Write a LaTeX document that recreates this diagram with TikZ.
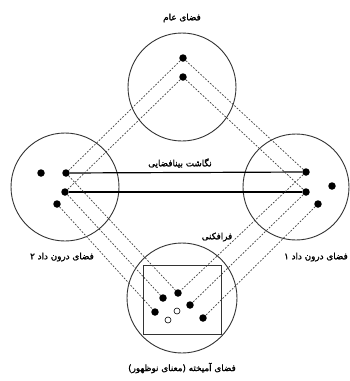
\documentclass[tikz,border=0pt]{standalone}
\usepackage{fontspec}
\newfontfamily\arabicfont[Script=Arabic, FakeBold=1.6]{DejaVu Sans}
\TeXXeTstate=1
\usetikzlibrary{positioning}

\begin{document}
\begin{tikzpicture}[x=1pt, y=-1pt,
  space/.style={circle, draw=black!80, line width=0.9pt, inner sep=0pt},
  dot/.style={circle, fill=black, inner sep=0pt, minimum size=7.5pt},
  hollow/.style={circle, draw=black, fill=white, line width=0.6pt, inner sep=0pt, minimum size=6pt},
  proj/.style={draw=black!75, line width=0.7pt, dash pattern=on 1.8pt off 1.5pt},
  map/.style={draw=black, line width=1.2pt},
  lbl/.style={font=\arabicfont\fontsize{8.8}{10}\selectfont, inner sep=1pt}
]
  \useasboundingbox (0,0) rectangle (349,381);

  \node[space, minimum size=108pt] (generic) at (182,87) {};
  \node[space, minimum size=108pt] (input2) at (65,187) {};
  \node[space, minimum size=106pt] (input1) at (296,187) {};
  \node[space, minimum size=110pt] (blend) at (182,298) {};
  \node[draw=black!80, line width=0.9pt, minimum width=78pt, minimum height=69pt, inner sep=0pt] (frame) at (182,299.5) {};

  \node[dot] (g1) at (183,58) {};
  \node[dot] (g2) at (183,77) {};

  \node[dot] (b0) at (41,173) {};
  \node[dot] (b1) at (66,173) {};
  \node[dot] (b2) at (65,192) {};
  \node[dot] (b3) at (57,204) {};

  \node[dot] (a1) at (306,172) {};
  \node[dot] (a2) at (306,192) {};
  \node[dot] (a3) at (318,204) {};
  \node[dot] (a0) at (332,186) {};

  \node[dot] (m1) at (178,293) {};
  \node[dot] (m2) at (163,298) {};
  \node[dot] (m3) at (155,312) {};
  \node[dot] (m4) at (190,305) {};
  \node[dot] (m5) at (203,318) {};
  \node[hollow] (o1) at (177,311) {};
  \node[hollow] (o2) at (168,320) {};

  \draw[map] (b1) -- (a1);
  \draw[map] (b2) -- (a2);

  \draw[proj] (g1) -- (b1);
  \draw[proj] (g2) -- (b2);
  \draw[proj] (g1) -- (a1);
  \draw[proj] (g2) -- (a2);
  \draw[proj] (b1) -- (m1);
  \draw[proj] (b2) -- (m2);
  \draw[proj] (b3) -- (m3);
  \draw[proj] (a1) -- (m1);
  \draw[proj] (a2) -- (m4);
  \draw[proj] (a3) -- (m5);

  \node[lbl] (tgeneric) at (182,18) {\beginR فضای عام\endR};
  \node[lbl] (tmap) at (180,163) {\beginR نگاشت بینافضایی\endR};
  \node[lbl] (tinput2) at (62,257) {\beginR فضای درون داد ۲\endR};
  \node[lbl, anchor=east] (tinput1) at (349,257) {\beginR فضای درون داد ۱\endR};
  \node[lbl] (tproj) at (217,237) {\beginR فرافکنی\endR};
  \node[lbl] (tblend) at (182,368) {\beginR فضای آمیخته (معنای نوظهور)\endR};
\end{tikzpicture}
\end{document}
